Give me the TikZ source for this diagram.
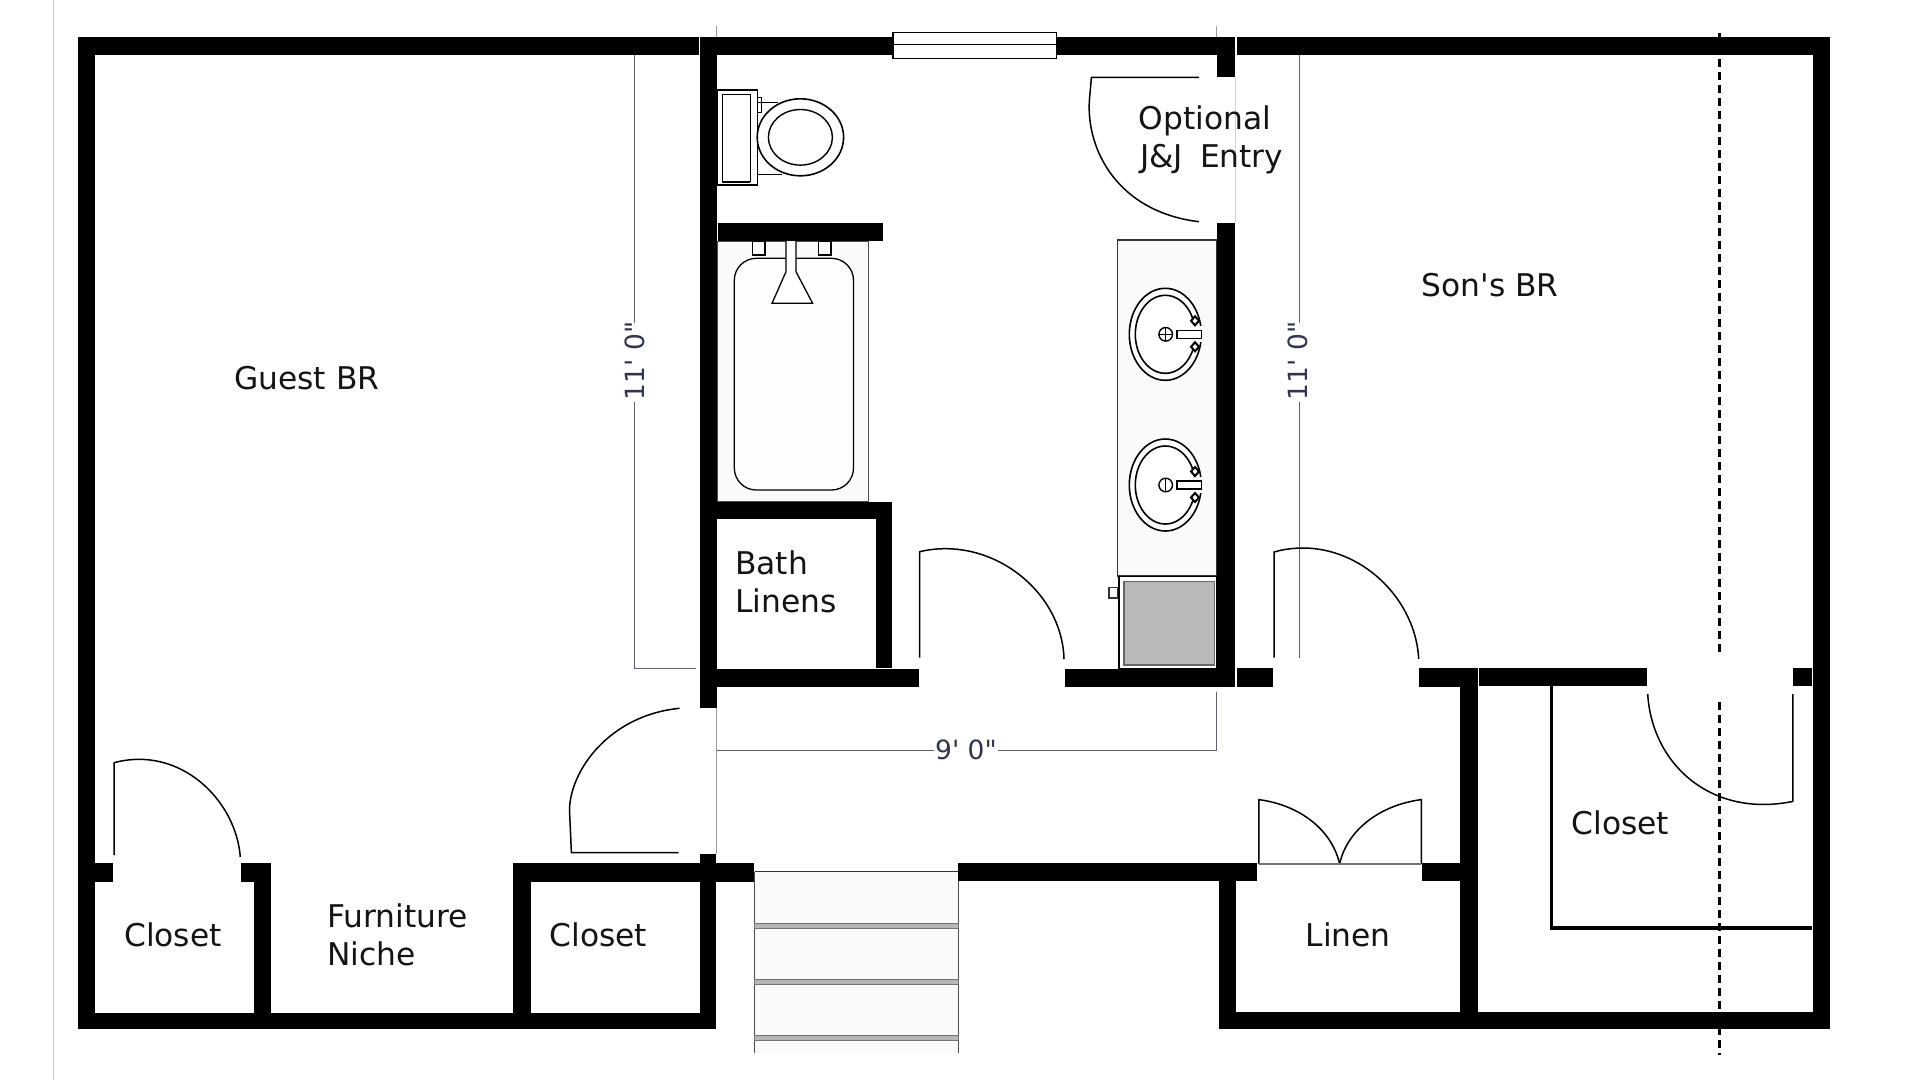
\documentclass[tikz,border=0pt]{standalone}
\usepackage{fontspec}
\setmainfont{DejaVu Sans}
\newfontfamily\planfont{DejaVu Sans}
\tikzset{
  wall/.style={fill=black,draw=none},
  thin line/.style={draw=black,line width=1.2pt},
  door/.style={draw=black,line width=1.5pt},
  fixture/.style={draw=black,line width=1.3pt},
  dim/.style={draw=dimgray,line width=1pt},
  dimtext/.style={text=dimnavy,font=\planfont\fontsize{26.5}{27}\selectfont,inner sep=2pt},
  label/.style={anchor=base west,inner sep=0pt,text=black!92,font=\planfont\fontsize{31.3}{32}\selectfont},
}
\definecolor{dimgray}{HTML}{5E626C}
\definecolor{dimnavy}{HTML}{2F3550}
\definecolor{hair}{HTML}{9A9A9A}
\definecolor{pale}{HTML}{FBFAFA}
\definecolor{cab}{HTML}{B9B9B9}
\definecolor{tread}{HTML}{B8B6B4}
\begin{document}
\begin{tikzpicture}[x=1pt,y=-1pt]
\fill[white] (0,0) rectangle (1920,1080);
\useasboundingbox (0,0) rectangle (1920,1080);
% page edge
\draw[draw=black!22,line width=1pt] (53.6,0) -- (53.6,1080);
% dimension lines
\draw[dim] (634.3,54) -- (634.3,323);
\draw[dim] (634.3,402) -- (634.3,668.5) -- (696,668.5);
\draw[dim] (1299,54) -- (1299,323);
\draw[dim] (1299,402) -- (1299,657.5);
\draw[dim] (716.5,750.7) -- (1216.7,750.7) -- (1216.7,691.7);
\draw[draw=hair,line width=1pt] (1216,26) -- (1216,37);
\draw[draw=hair,line width=1pt] (716.7,26) -- (716.7,37);
\draw[draw=hair,line width=1pt] (716.5,708) -- (716.5,854);
\draw[draw=black!18,line width=1pt] (1235,77) -- (1235,223);
\node[dimtext,rotate=90] (dimA) at (634.5,361) {11' 0"};
\node[dimtext,rotate=90] (dimB) at (1297.5,361) {11' 0"};
\node[dimtext,fill=white,inner sep=1pt] (dimC) at (966,750) {9' 0"};
% dashed line
\draw[draw=black,line width=3pt,dash pattern=on 8pt off 5pt] (1719.6,33) -- (1719.6,654);
\draw[draw=black,line width=3pt,dash pattern=on 8pt off 5pt] (1719.6,702) -- (1719.6,1055);
% tub
\filldraw[fill=pale,draw=black!70,line width=1pt] (717,241) rectangle (868,501.7);
\filldraw[fill=white!60!pale,draw=black,line width=1.3pt,rounded corners=22pt] (734.3,258.3) rectangle (853.5,490);
\draw[fixture,fill=white] (752.6,241) rectangle (765,255);
\draw[fixture,fill=white] (818.8,241) rectangle (831,255);
\draw[fixture,fill=white] (786,241) -- (786,271.7) -- (772,303.3) -- (812.6,303.3) -- (796,271.7) -- (796,241);
% counter
\filldraw[fill=pale,draw=black!80,line width=1.2pt] (1117.6,240) rectangle (1216.7,576);
\filldraw[fill=white,draw=black,line width=1.5pt] (1118.8,576.7) rectangle (1216.7,668.3);
\filldraw[fill=cab,draw=black!60,line width=1.5pt] (1124,581.7) rectangle (1214.7,665);
\draw[draw=black,line width=1.5pt] (1118.8,576.7) -- (1216.7,576.7);
\draw[draw=black!80,line width=1.2pt] (1109,587.7) rectangle (1117.5,598);
% sinks
\foreach \sy/\kind in {334.3/0,485/1}{
  \filldraw[fill=white,draw=black,line width=1.6pt] (1165.3,\sy) ellipse [x radius=36,y radius=46];
  \draw[draw=black,line width=1.6pt] (1165.3,\sy) ellipse [x radius=30,y radius=39];
  \fill[pale] (1188,\sy-8) rectangle (1203,\sy+8);
  \draw[draw=black,line width=1.4pt] (1165.7,\sy) circle (6.8);
  \draw[draw=black,line width=1.2pt] (1165.7,\sy-6.8) -- (1165.7,\sy+6.8);
  \ifnum\kind=0 \draw[draw=black,line width=1.2pt] (1158.9,\sy) -- (1172.5,\sy);\fi
  \filldraw[fill=white,draw=black,line width=1.5pt] (1177,\sy-4) rectangle (1201.7,\sy+4);
  \filldraw[fill=white,draw=black,line width=2pt] (1195,\sy-18) -- (1199,\sy-13.5) -- (1195,\sy-9) -- (1191,\sy-13.5) -- cycle;
  \filldraw[fill=white,draw=black,line width=2pt] (1195,\sy+8) -- (1199,\sy+12.5) -- (1195,\sy+17) -- (1191,\sy+12.5) -- cycle;
}
% toilet
\draw[fixture] (717.5,90) rectangle (757.5,185);
\draw[draw=black,line width=1pt] (722.4,94.3) rectangle (750,181.7);
\draw[draw=black,line width=2.2pt] (722.4,181.7) -- (750,181.7);
\draw[draw=black,line width=1pt] (757.5,97) rectangle (761,112);
\draw[draw=black,line width=1pt] (757.5,102.7) -- (778,102.7);
\draw[draw=black,line width=1pt] (757.5,174) -- (782,174);
\filldraw[fill=white,draw=black,line width=1.6pt] (800.4,137.3) ellipse [x radius=43.2,y radius=38.5];
\draw[draw=black,line width=1.4pt] (800.4,137.3) ellipse [x radius=32,y radius=27.8];
% stairs
\fill[pale] (754.7,871.7) rectangle (958.3,1053);
\draw[draw=black!70,line width=1pt] (754.7,871.7) -- (754.7,1053);
\draw[draw=black!70,line width=1pt] (958.3,871.7) -- (958.3,1053);
\draw[draw=black!80,line width=1.4pt] (754.7,871.7) -- (958.3,871.7);
\foreach \ty in {923,979.3,1035}{
  \filldraw[fill=tread,draw=black!55,line width=1pt] (754.7,\ty) rectangle (958.3,\ty+5.5);
}
% walls
\fill[wall] (78,37) rectangle (699,54.5);
\fill[wall] (699.6,37) rectangle (892,54.5);
\fill[wall] (1056.7,37) rectangle (1235,54.5);
\fill[wall] (1237,37) rectangle (1830.3,54.5);
\fill[wall] (77.6,37) rectangle (95.4,1029.3);
\fill[wall] (77.6,1012.7) rectangle (715.8,1029.3);
\fill[wall] (699.6,37) rectangle (716.7,708.3);
\fill[wall] (699.6,854) rectangle (716,1029.3);
\fill[wall] (95,863.3) rectangle (112.8,881.7);
\fill[wall] (240.8,863.3) rectangle (271,881.7);
\fill[wall] (254,863.3) rectangle (271,1013);
\fill[wall] (512.8,863.3) rectangle (754,881.7);
\fill[wall] (512.8,863.3) rectangle (531,1013);
\fill[wall] (958.3,863.3) rectangle (1257.3,881);
\fill[wall] (1218.5,863.3) rectangle (1235.8,1029);
\fill[wall] (1421.5,863.3) rectangle (1460,881);
\fill[wall] (1218.5,1012.3) rectangle (1830.3,1029);
\fill[wall] (1460,668) rectangle (1477.7,1029);
\fill[wall] (1418.7,668) rectangle (1477.7,686.8);
\fill[wall] (1479,668) rectangle (1646.8,686);
\fill[wall] (1793,668) rectangle (1812.4,686);
\fill[wall] (1813.3,54) rectangle (1830.3,1029);
\fill[wall] (1216.7,54) rectangle (1235,77.3);
\fill[wall] (1216.7,222.7) rectangle (1235,687);
\fill[wall] (717.5,223.3) rectangle (883,240.7);
\fill[wall] (717,501.7) rectangle (892,518.7);
\fill[wall] (876,501.7) rectangle (892,667.7);
\fill[wall] (699.6,669) rectangle (918.8,687);
\fill[wall] (1064.5,669) rectangle (1235,687);
\fill[wall] (1237,668) rectangle (1272.7,686.8);
% thin closet wall
\draw[draw=black,line width=3.4pt,line join=miter] (1551.7,686) -- (1551.7,928) -- (1811.5,928);
% window
\filldraw[fill=white,draw=black,line width=1.3pt] (893,32.3) rectangle (1056.7,58.3);
\draw[draw=black,line width=1.3pt] (893,44.3) -- (1056.7,44.3);
% doors
\draw[door,line join=round] (1199,77.3) -- (1091.4,77.3) -- (1089.4,100) .. controls (1086,150) and (1118,212) .. (1199,221.7);
\draw[door,line join=round] (919.6,657.7) -- (919.6,551.7) .. controls (990,535) and (1062,590) .. (1064,659);
\draw[door,line join=round] (114,855) -- (114,762.7) .. controls (180,745) and (236,800) .. (240.3,857);
\draw[door,line join=round] (679.6,708.3) .. controls (610,715) and (570,770) .. (569.5,810) -- (571.4,852.7) -- (678.6,852.7);
\draw[door,line join=round] (1274,657.5) -- (1274,552) .. controls (1345,532) and (1415,590) .. (1418.7,659);
\draw[door,line join=round] (1647.7,694) .. controls (1652,765) and (1712,818) .. (1792.8,801.4) -- (1792.8,694);
\draw[door,line join=round] (1258.8,864) -- (1258.8,799.6) .. controls (1300,805) and (1332,830) .. (1339.6,864) .. controls (1347,830) and (1380,805) .. (1421.3,799.6) -- (1421.3,864);
\draw[draw=black!55,line width=1.2pt] (1258.8,864) -- (1421.3,864);
% labels
\node[label] (guest) at (234,389.6) {Guest BR};
\node[label] (son) at (1421.6,296) {Son's BR};
\node[label] (opt) at (1138.5,129.3) {Optional};
\node[label] (jj) at (1140,167) {J\&J\hspace{7pt} Entry};
\node[label] (bath) at (735,574.5) {Bath};
\node[label] (linens) at (735,612.7) {Linens};
\node[label] (closetA) at (124,946) {Closet};
\node[label] (furn) at (327,927.7) {Furniture};
\node[label] (niche) at (327,965.3) {Niche};
\node[label] (closetB) at (549.5,946) {Closet};
\node[label] (linen) at (1305.5,946.7) {Linen};
\node[label] (closetC) at (1571.5,834.6) {Closet};
\end{tikzpicture}
\end{document}
